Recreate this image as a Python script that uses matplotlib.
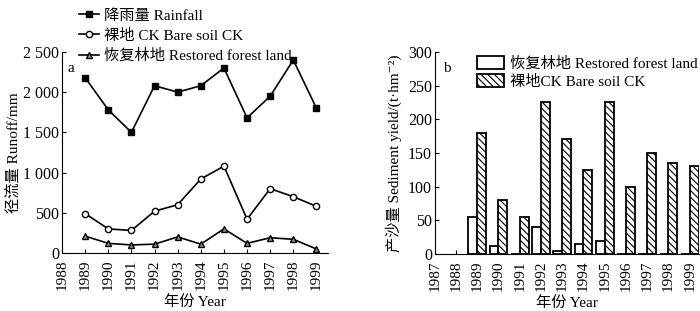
import matplotlib
matplotlib.use("Agg")
from matplotlib import pyplot as plt
from matplotlib.patches import Patch
from matplotlib.ticker import FuncFormatter

plt.rcParams['font.family'] = ['Liberation Serif', 'Noto Sans CJK SC', 'DejaVu Serif']
plt.rcParams['hatch.linewidth'] = 0.8
plt.rcParams['font.size'] = 11
plt.rcParams['xtick.labelsize'] = 11
plt.rcParams['ytick.labelsize'] = 11.5

# panel a: runoff
years = [1989, 1990, 1991, 1992, 1993, 1994, 1995, 1996, 1997, 1998, 1999]
rainfall = [2180, 1780, 1500, 2080, 2000, 2080, 2300, 1680, 1950, 2400, 1800]
bare_runoff = [490, 300, 280, 520, 600, 920, 1080, 420, 800, 700, 580]
forest_runoff = [210, 120, 100, 110, 200, 110, 300, 120, 190, 170, 50]

# panel b: sediment
forest_sed = [55, 12, 0, 40, 5, 15, 20, 0, 0, 0, 0]
bare_sed = [180, 80, 55, 225, 170, 125, 225, 100, 150, 135, 130]

fig = plt.figure(figsize=(7, 3.11), dpi=100)
ax1 = fig.add_axes([0.0886, 0.1865, 0.38, 0.6465])
ax2 = fig.add_axes([0.621, 0.1833, 0.378, 0.6497])

def thousands(v, pos):
    s = "%d" % v
    if len(s) > 3:
        s = s[:-3] + " " + s[-3:]
    return s

# ---- a
ax1.plot(years, rainfall, color='black', lw=1.2, marker='s', ms=4.5,
         mfc='black', label='降雨量 Rainfall')
ax1.plot(years, bare_runoff, color='black', lw=1.2, marker='o', ms=4.5,
         mfc='white', label='裸地 CK Bare soil CK')
ax1.plot(years, forest_runoff, color='black', lw=1.2, marker='^', ms=5,
         mfc='0.55', label='恢复林地 Restored forest land')
ax1.set_xlim(1988, 1999.5)
ax1.set_ylim(0, 2500)
ax1.set_xticks(range(1988, 2000))
ax1.set_yticks([0, 500, 1000, 1500, 2000, 2500])
ax1.yaxis.set_major_formatter(FuncFormatter(thousands))
ax1.tick_params(axis='x', rotation=90, direction='in', length=3, pad=5)
ax1.tick_params(axis='y', direction='in', length=3, pad=2)
ax1.spines['top'].set_visible(False)
ax1.spines['right'].set_visible(False)
ax1.set_xlabel('年份 Year', labelpad=3)
ax1.set_ylabel('径流量 Runoff/mm', labelpad=2)
ax1.text(0.02, 0.9, 'a', transform=ax1.transAxes)
ax1.legend(loc='lower left', bbox_to_anchor=(0.065, 0.945), frameon=False,
           handlelength=1.3, handletextpad=0.3, labelspacing=0.4,
           borderpad=0, borderaxespad=0)

# ---- b
w = 0.42
hatch = '\\\\\\\\\\'
ax2.bar(years, forest_sed, width=-w, align='edge', color='white',
        edgecolor='black', lw=1.3)
ax2.bar(years, bare_sed, width=w, align='edge', color='white',
        edgecolor='black', lw=1.3, hatch=hatch)
ax2.set_xlim(1987, 1999.45)
ax2.set_ylim(0, 300)
ax2.set_xticks(range(1987, 2000))
ax2.set_yticks([0, 50, 100, 150, 200, 250, 300])
ax2.tick_params(axis='x', rotation=90, direction='in', length=3, pad=5)
ax2.tick_params(axis='y', direction='in', length=3, pad=2)
ax2.spines['top'].set_visible(False)
ax2.spines['right'].set_visible(False)
ax2.set_xlabel('年份 Year', labelpad=3)
ax2.set_ylabel('产沙量 Sediment yield/(t·hm⁻²)', labelpad=4)
ax2.text(0.03, 0.9, 'b', transform=ax2.transAxes)
handles = [Patch(facecolor='white', edgecolor='black', lw=1.3),
           Patch(facecolor='white', edgecolor='black', lw=1.3, hatch=hatch)]
ax2.legend(handles, ['恢复林地 Restored forest land', '裸地CK Bare soil CK'],
           loc='upper left', bbox_to_anchor=(0.159, 0.98), frameon=False,
           handlelength=1.8, handleheight=0.9, handletextpad=0.4,
           labelspacing=0.25, borderpad=0, borderaxespad=0)

fig.savefig('out.png', dpi=100)
